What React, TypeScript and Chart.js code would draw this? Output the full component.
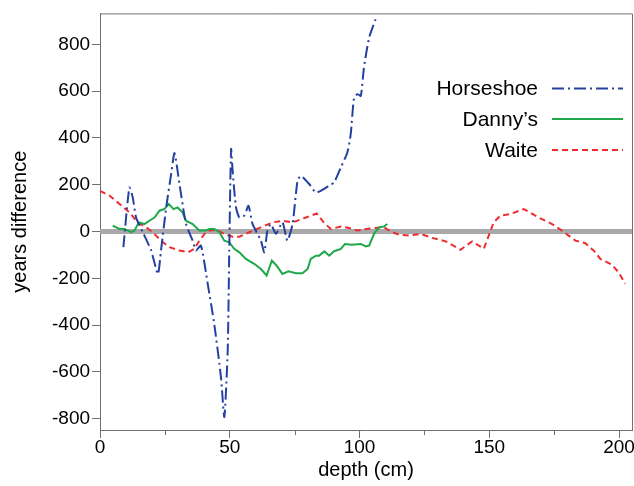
import React, { useEffect, useRef } from 'react';
import { Chart, registerables } from 'chart.js';

Chart.register(...registerables);

// ---- data ----
const horseshoeDepth = [9.0, 11.3, 12.6, 13.9, 16.5, 19.7, 22.3, 23.5, 25.5, 27.4, 28.7, 30.6, 33.1, 35.7, 37.0, 38.9, 41.5, 44.0, 46.6, 47.9, 49.2, 49.8, 50.5, 51.1, 52.4, 53.7, 55.6, 57.2, 58.8, 62.0, 63.3, 64.5, 65.8, 67.8, 70.3, 72.2, 74.2, 76.1, 77.4, 80.6, 83.1, 85.1, 88.3, 90.2, 92.8, 95.3, 96.6, 97.9, 99.2, 100.5, 101.7, 103.7, 106.2];
const horseshoeDiff = [-67, 188, 146, 60, -3, -81, -182, -81, 103, 245, 335, 204, 34, -39, -81, -60, -224, -394, -622, -792, -508, -81, 352, 260, 103, 60, 68, 110, 32, -39, -89, 4, 32, -10, 39, -39, 32, 217, 238, 203, 167, 174, 196, 210, 274, 338, 416, 572, 587, 580, 700, 828, 907];

const dannysDepth = [4.9, 7.5, 9.4, 12.0, 13.3, 14.9, 17.1, 19.0, 21.0, 22.9, 24.8, 26.5, 28.3, 29.9, 31.8, 33.1, 35.7, 38.3, 40.8, 42.1, 44.0, 46.0, 47.9, 49.8, 51.7, 53.7, 56.2, 59.4, 62.0, 64.2, 66.2, 68.0, 70.3, 72.6, 75.5, 78.0, 80.0, 81.2, 83.2, 84.4, 86.5, 88.3, 90.2, 92.8, 94.4, 96.9, 100.5, 102.4, 103.7, 105.6, 107.5, 109.4, 110.7];
const dannysDiff = [25, 11, 11, -3, 4, 39, 32, 46, 60, 89, 96, 118, 96, 103, 82, 46, 32, 4, 4, 11, 11, -3, -39, -46, -74, -89, -117, -138, -160, -188, -124, -145, -181, -170, -178, -178, -160, -117, -103, -103, -85, -103, -84, -74, -53, -56, -53, -64, -60, -10, 18, 21, 32];

const waiteDepth = [0, 3.7, 7.5, 11.3, 14.5, 17.8, 20.3, 23.5, 26.7, 30.6, 34.0, 36.3, 38.3, 40.8, 42.8, 45.3, 47.9, 51.1, 53.7, 57.5, 62.0, 66.5, 70.3, 74.2, 78.0, 81.2, 83.5, 86.2, 88.9, 92.8, 96.0, 99.2, 102.4, 106.2, 109.4, 112.6, 115.2, 119.0, 123.5, 128.0, 133.2, 138.9, 143.4, 147.9, 151.7, 154.3, 158.2, 163.3, 169.0, 174.2, 178.0, 183.2, 187.0, 190.2, 192.8, 197.2, 199.8, 202.4];
const waiteDiff = [174, 153, 118, 82, 39, 18, -3, -39, -67, -81, -89, -74, -39, -3, 7, 4, -10, -22, -22, -3, 18, 39, 46, 39, 54, 68, 77, 39, 11, 21, 15, 4, 11, 15, 18, -3, -13, -17, -10, -27, -42, -78, -42, -74, 39, 68, 75, 96, 60, 32, 4, -39, -50, -81, -117, -141, -174, -223];

const seriesNames = ['Horseshoe', 'Danny\u2019s', 'Waite'];
const seriesColors = ['#2440a0', '#1ea84a', '#f02a2e'];
const seriesDashes: number[][] = [[12, 4, 2, 4], [], [6, 4]];

const xMin = 0;
const xMax = 205;
const xTickValues = [0, 50, 100, 150, 200];
const xMinorTicks = [25, 75, 125, 175];
const yMin = -848;
const yMax = 932;
const yTickValues = [-800, -600, -400, -200, 0, 200, 400, 600, 800];
const referenceValue = 0;

const FONT = '"Liberation Sans", Arial, sans-serif';
const AXIS_COLOR = '#707070';

function zip(xs: number[], ys: number[]) {
  return xs.map((x, i) => ({ x, y: ys[i] }));
}

const decorPlugin = {
  id: 'decor',
  beforeDatasetsDraw(chart: any) {
    const { ctx, chartArea } = chart;
    const y = chart.scales.y.getPixelForValue(referenceValue);
    ctx.save();
    ctx.strokeStyle = '#a9a9ab';
    ctx.lineWidth = 5;
    ctx.beginPath();
    ctx.moveTo(chartArea.left, y);
    ctx.lineTo(chartArea.right, y);
    ctx.stroke();
    ctx.restore();
  },
  afterDraw(chart: any) {
    const { ctx, chartArea } = chart;
    const xs = chart.scales.x;
    ctx.save();
    // box top/right
    ctx.strokeStyle = AXIS_COLOR;
    ctx.lineWidth = 1;
    ctx.beginPath();
    ctx.moveTo(chartArea.left, chartArea.top + 0.5);
    ctx.lineTo(chartArea.right + 0.5, chartArea.top + 0.5);
    ctx.lineTo(chartArea.right + 0.5, chartArea.bottom);
    ctx.stroke();
    // minor ticks
    ctx.beginPath();
    xMinorTicks.forEach((v) => {
      const px = Math.round(xs.getPixelForValue(v)) + 0.5;
      ctx.moveTo(px, chartArea.bottom);
      ctx.lineTo(px, chartArea.bottom + 5);
    });
    ctx.stroke();
    // legend
    const textRight = 538;
    const lineL = 552;
    const lineR = 623;
    const rows = [88.5, 119, 150];
    ctx.font = '21px ' + FONT;
    ctx.textAlign = 'right';
    ctx.textBaseline = 'middle';
    seriesNames.forEach((name, i) => {
      ctx.fillStyle = '#000';
      ctx.fillText(name, textRight, rows[i] + 1);
      ctx.strokeStyle = seriesColors[i];
      ctx.lineWidth = 2;
      ctx.setLineDash(seriesDashes[i]);
      ctx.beginPath();
      ctx.moveTo(lineL, rows[i]);
      ctx.lineTo(lineR, rows[i]);
      ctx.stroke();
    });
    ctx.setLineDash([]);
    ctx.restore();
  },
};

export default function App() {
  const ref = useRef<HTMLCanvasElement | null>(null);
  useEffect(() => {
    if (!ref.current) return;
    const chart = new Chart(ref.current, {
      type: 'line',
      data: {
        datasets: [
          { label: seriesNames[0], data: zip(horseshoeDepth, horseshoeDiff), borderColor: seriesColors[0], borderDash: seriesDashes[0], borderWidth: 2, pointRadius: 0, tension: 0.2, fill: false },
          { label: seriesNames[1], data: zip(dannysDepth, dannysDiff), borderColor: seriesColors[1], borderDash: seriesDashes[1], borderWidth: 2, pointRadius: 0, tension: 0, fill: false },
          { label: seriesNames[2], data: zip(waiteDepth, waiteDiff), borderColor: seriesColors[2], borderDash: seriesDashes[2], borderWidth: 2, pointRadius: 0, tension: 0, fill: false },
        ],
      },
      options: {
        responsive: false,
        animation: false,
        layout: { padding: { left: 4, top: 12, right: 2, bottom: 0 } },
        plugins: { legend: { display: false }, tooltip: { enabled: false } },
        scales: {
          x: {
            type: 'linear',
            min: xMin,
            max: xMax,
            grid: { drawOnChartArea: false, drawTicks: true, tickLength: 8, color: AXIS_COLOR },
            border: { display: true, color: AXIS_COLOR, width: 1 },
            ticks: { padding: 0, color: '#000', font: { family: FONT, size: 19, lineHeight: 1 }, maxRotation: 0 },
            title: { display: true, text: 'depth (cm)', color: '#000', font: { family: FONT, size: 20, lineHeight: 1.2 }, padding: { top: 1, bottom: 4 } },
            afterBuildTicks(scale: any) { scale.ticks = xTickValues.map((v) => ({ value: v })); },
            afterFit(scale: any) { scale.paddingRight = 0; },
          },
          y: {
            type: 'linear',
            min: yMin,
            max: yMax,
            grid: { drawOnChartArea: false, drawTicks: true, tickLength: 8, color: AXIS_COLOR },
            border: { display: true, color: AXIS_COLOR, width: 1 },
            ticks: { padding: 2, color: '#000', font: { family: FONT, size: 19 } },
            title: { display: true, text: 'years difference', color: '#000', font: { family: FONT, size: 20, lineHeight: 1.2 }, padding: { top: 4, bottom: 18 } },
            afterBuildTicks(scale: any) { scale.ticks = yTickValues.map((v) => ({ value: v })); },
          },
        },
      },
      plugins: [decorPlugin],
    });
    return () => chart.destroy();
  }, []);
  return (
    <div style={{ position: 'absolute', left: 0, top: 0, width: 634, height: 486 }}>
      <canvas ref={ref} width={634} height={486} />
    </div>
  );
}
